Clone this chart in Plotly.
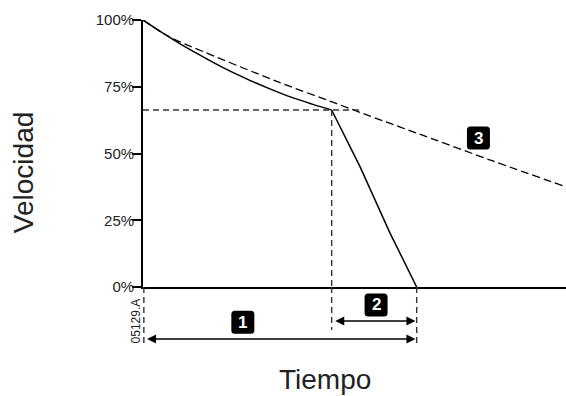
import plotly.graph_objects as go

# Speed (% of nominal) against time (arbitrary units)
t_decel = [0, 0.5, 1.0, 1.5, 2.0, 2.5, 3.0, 3.5, 4.0, 4.46]
v_decel = [100, 94.8, 89.9, 85.5, 81.3, 77.6, 74.2, 71.1, 68.5, 66.3]
t_stop = [4.46, 5.13, 5.84, 6.47]
v_stop = [66.3, 45.1, 20.2, 0]
t_coast = [0, 0.59, 1.42, 2.72, 3.48, 4.47, 5.37, 6.08, 6.79, 8.27, 10]
v_coast = [100, 94.0, 88.2, 79.8, 75.1, 69.3, 64.0, 59.9, 55.8, 47.2, 37.5]
y_ticks = [0, 25, 50, 75, 100]
y_tick_text = ["0%", "25%", "50%", "75%", "100%"]

t_end = 10
t_knee = t_stop[0]
v_knee = v_stop[0]
t_zero = t_stop[-1]
guide_end = 5.2

INK = "#000000"
GUIDE = "#333333"
TEXT = "#222222"

fig = go.Figure()

# coasting curve (3)
fig.add_trace(go.Scatter(x=t_coast, y=v_coast, mode="lines", line_shape="spline",
                         line=dict(color=INK, width=1.3, dash="8px,4px"),
                         hoverinfo="skip"))
# controlled deceleration, then ramp to standstill
fig.add_trace(go.Scatter(x=t_decel, y=v_decel, mode="lines", line_shape="spline",
                         line=dict(color=INK, width=1.5), hoverinfo="skip"))
fig.add_trace(go.Scatter(x=t_stop, y=v_stop, mode="lines",
                         line=dict(color=INK, width=1.5), hoverinfo="skip"))
# guide lines at the switching point
fig.add_trace(go.Scatter(x=[0, guide_end], y=[v_knee, v_knee], mode="lines",
                         line=dict(color=GUIDE, width=1.4, dash="6px,4px"),
                         hoverinfo="skip"))
fig.add_trace(go.Scatter(x=[t_knee, t_knee], y=[v_knee, 0], mode="lines",
                         line=dict(color=GUIDE, width=1.4, dash="6px,4px"),
                         hoverinfo="skip"))

shapes = []
guide_style = dict(color=GUIDE, width=1.4, dash="6px,4px")
# guide extensions below the time axis
shapes.append(dict(type="line", xref="paper", yref="paper", x0=0.002, x1=0.002,
                   y0=0, y1=-0.217, line=guide_style))
shapes.append(dict(type="line", xref="x", yref="paper", x0=t_knee, x1=t_knee,
                   y0=0, y1=-0.161, line=guide_style))
shapes.append(dict(type="line", xref="x", yref="paper", x0=t_zero, x1=t_zero,
                   y0=0, y1=-0.217, line=guide_style))


def badge_path(w=23, h=23, r=3.5):
    a, b = w / 2, h / 2
    return (f"M {-a + r},{-b} L {a - r},{-b} Q {a},{-b} {a},{-b + r} "
            f"L {a},{b - r} Q {a},{b} {a - r},{b} L {-a + r},{b} "
            f"Q {-a},{b} {-a},{b - r} L {-a},{-b + r} Q {-a},{-b} {-a + r},{-b} Z")


badges = [
    ("1", 2.36, "paper", -0.132),
    ("2", 5.51, "paper", -0.067),
    ("3", 7.93, "y", 55.8),
]

annotations = []
for label, bx, yref, by in badges:
    shapes.append(dict(type="path", xref="x", yref=yref, xsizemode="pixel",
                       ysizemode="pixel", xanchor=bx, yanchor=by, path=badge_path(),
                       fillcolor="#000000", line=dict(width=0)))
    annotations.append(dict(x=bx, y=by, xref="x", yref=yref, text=f"<b>{label}</b>",
                            showarrow=False, font=dict(family="Liberation Sans", size=17,
                                                       color="white"),
                            xanchor="center", yanchor="middle"))

# double-headed duration arrows
arrow_common = dict(xref="x", yref="paper", axref="x", ayref="pixel", ay=0,
                    showarrow=True, text="", arrowside="end+start", arrowhead=2,
                    startarrowhead=2, arrowsize=1.2, startarrowsize=1.2,
                    arrowwidth=1.5, arrowcolor=INK, standoff=0, startstandoff=0)
annotations.append(dict(x=t_zero - 0.03, y=-0.195, ax=0.06, **arrow_common))
annotations.append(dict(x=t_zero - 0.03, y=-0.127, ax=t_knee + 0.05, **arrow_common))

# drawing reference code
annotations.append(dict(x=-0.0165, y=-0.129, xref="paper", yref="paper", text="05129.A",
                        showarrow=False, textangle=-90,
                        font=dict(family="Liberation Sans", size=12, color=TEXT),
                        xanchor="center", yanchor="middle"))
# axis titles
annotations.append(dict(x=-0.281, y=0.427, xref="paper", yref="paper", text="Velocidad",
                        showarrow=False, textangle=-90,
                        font=dict(family="Liberation Sans", size=28, color=TEXT),
                        xanchor="center", yanchor="middle"))
annotations.append(dict(x=0.43, y=-0.348, xref="paper", yref="paper", text="Tiempo",
                        showarrow=False,
                        font=dict(family="Liberation Sans", size=28, color=TEXT),
                        xanchor="center", yanchor="middle"))

fig.update_layout(
    width=566, height=396,
    margin=dict(l=143, r=0, t=20, b=109, pad=0),
    paper_bgcolor="white", plot_bgcolor="white",
    showlegend=False,
    shapes=shapes, annotations=annotations,
    xaxis=dict(range=[0, t_end], showgrid=False, zeroline=False, showticklabels=False,
               ticks="", showline=True, linecolor=INK, linewidth=1.8, fixedrange=True),
    yaxis=dict(range=[0, 100], showgrid=False, zeroline=False,
               tickvals=y_ticks, ticktext=y_tick_text, ticks="outside", ticklen=9,
               tickwidth=1.5, tickcolor=INK, ticklabelstandoff=-5,
               tickfont=dict(family="Liberation Sans", size=15, color=TEXT),
               showline=True, linecolor=INK, linewidth=1.8, fixedrange=True),
)

fig.write_html("out.html", config={"displayModeBar": False})
